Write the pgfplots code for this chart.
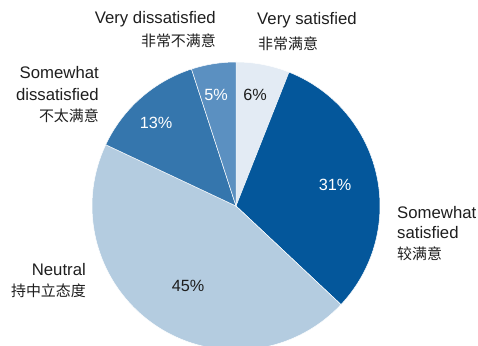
\documentclass[border=0pt]{standalone}
\usepackage{pgfplots}
\usepackage{pgfplotstable}
\pgfplotsset{compat=1.18}
\usepackage{fontspec}
\setmainfont{Liberation Sans}
\newfontfamily\cjk{Noto Sans CJK SC}
\definecolor{cVS}{HTML}{E3EBF4}
\definecolor{cSS}{HTML}{04579B}
\definecolor{cNE}{HTML}{B4CCE0}
\definecolor{cSD}{HTML}{3576AD}
\definecolor{cVD}{HTML}{5B90C1}
\definecolor{txt}{HTML}{1E1E1E}
\pgfplotstableread{
idx pct
0 6
1 31
2 45
3 13
4 5
}\piedata
\begin{document}
\begin{tikzpicture}
\begin{axis}[
  width=478bp, height=346bp, scale only axis,
  xmin=0, xmax=478, ymin=0, ymax=346,
  hide axis, clip=true,
]
\pgfplotsextra{
  \gdef\pieangle{90}
  \foreach \i/\col in {0/cVS,1/cSS,2/cNE,3/cSD,4/cVD}{
    \pgfplotstablegetelem{\i}{pct}\of\piedata
    \pgfmathsetmacro\sweep{3.6*\pgfplotsretval}
    \pgfmathsetmacro\endang{\pieangle-\sweep}
    \fill[\col, draw=white, line width=0.5pt] (axis cs:236,140) -- ++(\pieangle:144bp)
      arc[start angle=\pieangle, end angle=\endang, radius=144bp] -- cycle;
    \xdef\pieangle{\endang}
  }
}
% category labels
\tikzset{lat/.style={text=txt, font=\fontsize{16.8}{19}\selectfont, inner sep=0pt},
         zh/.style={text=txt, font=\cjk\fontsize{15}{17}\selectfont, inner sep=0pt},
         pc/.style={font=\fontsize{16.3}{19}\selectfont, inner sep=0pt}}
\node[anchor=east, lat] at (axis cs:216,327) {Very dissatisfied};
\node[anchor=east, zh] at (axis cs:216,305) {非常不满意};
\node[anchor=west, lat] at (axis cs:257,326) {Very satisfied};
\node[anchor=west, zh] at (axis cs:258,302) {非常满意};
\node[anchor=east, lat] at (axis cs:99,273) {Somewhat};
\node[anchor=east, lat] at (axis cs:99,251) {dissatisfied};
\node[anchor=east, zh] at (axis cs:99,230) {不太满意};
\node[anchor=west, lat] at (axis cs:397,133) {Somewhat};
\node[anchor=west, lat] at (axis cs:397,113) {satisfied};
\node[anchor=west, zh] at (axis cs:397,92) {较满意};
\node[anchor=east, lat] at (axis cs:86,76) {Neutral};
\node[anchor=east, zh] at (axis cs:86,55) {持中立态度};
% percentages
\node[pc, text=white] at (axis cs:216,251) {5\%};
\node[pc, text=txt] at (axis cs:255,251) {6\%};
\node[pc, text=white] at (axis cs:156,223) {13\%};
\node[pc, text=white] at (axis cs:335,161) {31\%};
\node[pc, text=txt] at (axis cs:188,60) {45\%};
\end{axis}
\pgfresetboundingbox
\path (current axis.south west) rectangle (current axis.north east);
\end{tikzpicture}
\end{document}
